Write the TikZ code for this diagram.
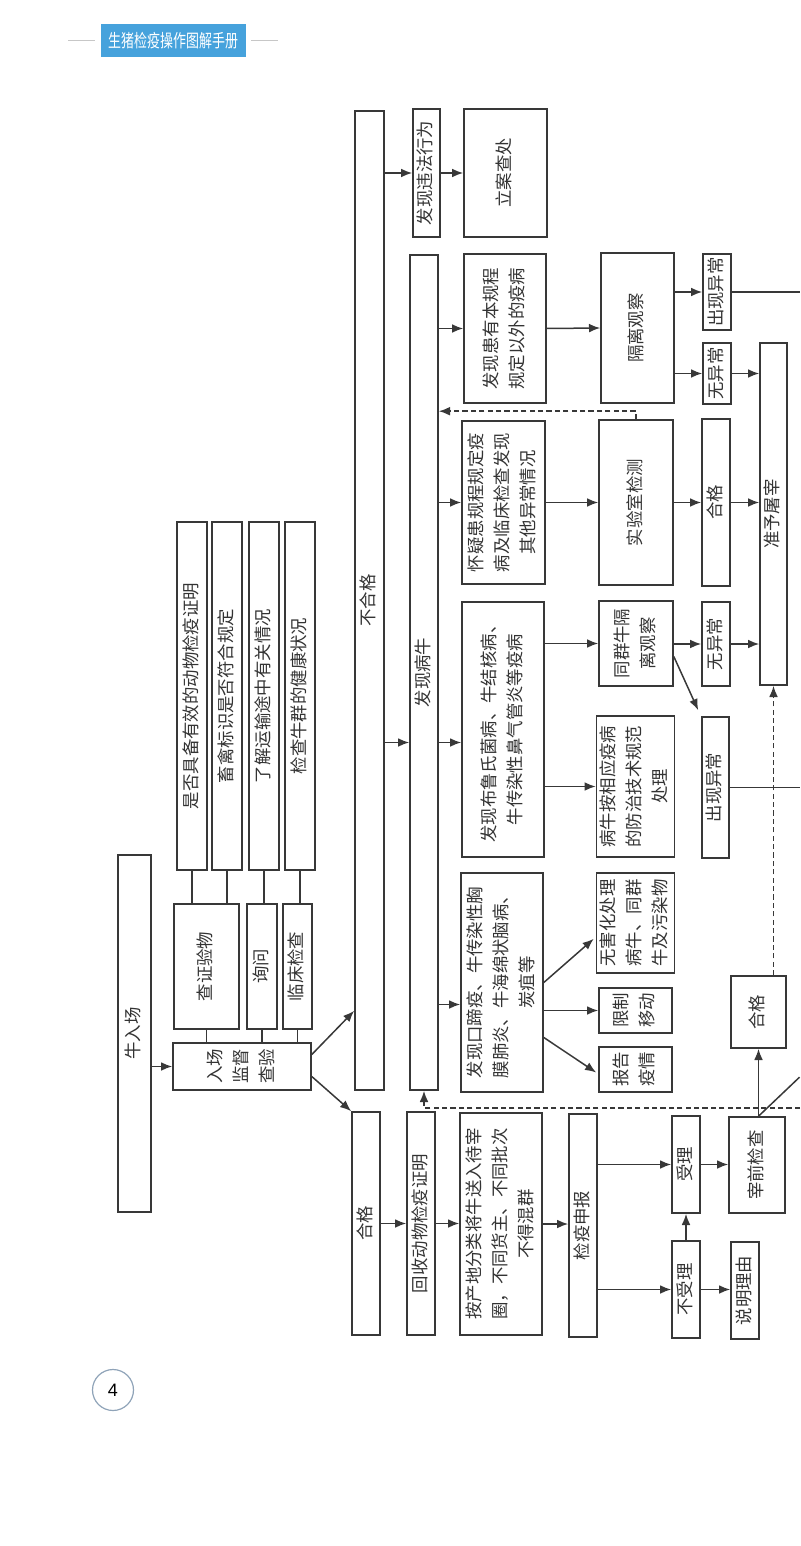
\documentclass[tikz,border=0pt]{standalone}
\usepackage{fontspec}
\setmainfont{Noto Sans CJK SC}
\newfontfamily\numfont{Liberation Sans}
\usepackage{graphicx}
\usepackage{xcolor}
\usetikzlibrary{calc, arrows.meta}
\definecolor{mblue}{HTML}{46A2DC}
\definecolor{mycirc}{HTML}{8FA3B8}
\colorlet{myline}{black!78}
\colorlet{mytext}{black!80}
\colorlet{myrule}{black!22}
\newcommand{\vt}[1]{\rotatebox{90}{\begin{tabular}{@{}c@{}}#1\end{tabular}}}
\tikzset{
  >=Latex,
  box/.style 2 args={draw=myline, line width=0.8pt, inner sep=0pt, text=mytext,
    minimum width=#1*0.5pt, minimum height=#2*0.5pt},
  connect/.style={line width=0.75pt, myline},
  connect arrow/.style={-{Latex[length=5.6pt,width=4.4pt]}, line width=0.75pt, myline},
  connect dash/.style={connect arrow, dash pattern=on 2.6pt off 1.6pt}
}

\begin{document}
\begin{tikzpicture}[x=0.5pt, y=-0.5pt, every node/.style={font=\fontsize{8.7}{13}\selectfont}]
  \useasboundingbox (0,0) rectangle (800,1546);
  \coordinate (edge) at (800,0);

  % Page header
  \node[fill=mblue, text=white, inner sep=0pt, minimum width=72.5pt, minimum height=16.5pt] (title) at (173.5,40.5)
    {\scalebox{0.72}[1]{\fontsize{9}{10}\selectfont 生猪检疫操作图解手册}};
  \draw[myrule, line width=0.8pt] ([xshift=-3pt]title.west) -- ++(-13.5pt,0);
  \draw[myrule, line width=0.8pt] ([xshift=2.5pt]title.east) -- ++(13.5pt,0);

  % Entry and inspection
  \node[box={33}{357}] (ruchang) at (134.5,1033.5) {\vt{牛入场}};
  \node[box={138}{47}] (jianyan) at (242,1066.5) {\vt{入场\\监督\\查验}};
  \node[box={65}{125}] (chazheng) at (206.5,966.5) {\vt{查证验物}};
  \node[box={30}{125}] (xunwen) at (262,966.5) {\vt{询问}};
  \node[box={29}{125}] (linchuang) at (297.5,966.5) {\vt{临床检查}};
  \node[box={30}{348}] (zhengming) at (192,696) {\vt{是否具备有效的动物检疫证明}};
  \node[box={30}{348}] (biaoshi) at (227,696) {\vt{畜禽标识是否符合规定}};
  \node[box={30}{348}] (yunshu) at (264,696) {\vt{了解运输途中有关情况}};
  \node[box={30}{348}] (jiankang) at (300,696) {\vt{检查牛群的健康状况}};

  % Result of inspection
  \node[box={29}{979}] (buhege) at (369.5,600.5) {\vt{不合格}};
  \node[box={28}{223}] (hege) at (366,1223.5) {\vt{合格}};

  % Not qualified
  \node[box={27}{128}] (weifa) at (426.5,173) {\vt{发现违法行为}};
  \node[box={83}{128}] (lian) at (505.5,173) {\vt{立案查处}};
  \node[box={28}{835}] (bingniu) at (424,672.5) {\vt{发现病牛}};

  \node[box={82}{149}] (yiwai) at (505,328.5) {\vt{发现患有本规程\\规定以外的疫病}};
  \node[box={73}{150}] (geli) at (637.5,328) {\vt{隔离观察}};
  \node[box={28}{76}] (yichang1) at (717,292) {\vt{出现异常}};
  \node[box={28}{61}] (wuyichang1) at (717,373.5) {\vt{无异常}};
  \node[box={27}{342}] (tuzai) at (773.5,514) {\vt{准予屠宰}};

  \node[box={83}{163}] (huaiyi) at (503.5,502.5) {\vt{怀疑患规程规定疫\\病及临床检查发现\\其他异常情况}};
  \node[box={74}{165}] (shiyan) at (636,502.5) {\vt{实验室检测}};
  \node[box={28}{167}] (hege2) at (716,502.5) {\vt{合格}};

  \node[box={82}{255}] (buru) at (503,729.5) {\vt{发现布鲁氏菌病、牛结核病、\\牛传染性鼻气管炎等疫病}};
  \node[box={74}{85}] (tongqun) at (636,643.5) {\vt{同群牛隔\\离观察}};
  \node[box={28}{84}] (wuyichang2) at (716,644) {\vt{无异常}};
  \node[box={27}{141}] (yichang2) at (715.5,787.5) {\vt{出现异常}};
  \node[box={73}{141}] (fangzhi) at (635.5,786.5) {\vt{病牛按相应疫病\\的防治技术规范\\处理}};

  \node[box={82}{219}] (kouti) at (502,982.5) {\vt{发现口蹄疫、牛传染性胸\\膜肺炎、牛海绵状脑病、\\炭疽等}};
  \node[box={73}{100}] (wuhai) at (635.5,923) {\vt{无害化处理\\病牛、同群\\牛及污染物}};
  \node[box={73}{45}] (xianzhi) at (635.5,1010.5) {\vt{限制\\移动}};
  \node[box={73}{45}] (baogao) at (635.5,1069.5) {\vt{报告\\疫情}};

  % Qualified
  \node[box={28}{223}] (huishou) at (421,1223.5) {\vt{回收动物检疫证明}};
  \node[box={82}{222}] (anchandi) at (501,1224) {\vt{按产地分类将牛送入待宰\\圈，不同货主、不同批次\\不得混群}};
  \node[box={28}{223}] (shenbao) at (583,1225.5) {\vt{检疫申报}};
  \node[box={28}{97}] (shouli) at (686,1164.5) {\vt{受理}};
  \node[box={28}{97}] (bushouli) at (686,1289.5) {\vt{不受理}};
  \node[box={28}{97}] (shuoming) at (745,1290.5) {\vt{说明理由}};
  \node[box={56}{96}] (zaiqian) at (757,1165) {\vt{宰前检查}};
  \node[box={55}{72}] (hege3) at (758.5,1012) {\vt{合格}};

  % Page number
  \node[circle, draw=mycirc, line width=0.6pt, minimum size=20.5pt, inner sep=0pt,
    font=\numfont\fontsize{9}{10}\selectfont] (pagenum) at (113,1390) {4};

  % Entry -> inspection
  \draw[connect arrow] (ruchang.east |- jianyan) -- (jianyan.west);
  \draw[connect] (jianyan.north -| chazheng) -- (chazheng.south);
  \draw[connect] (jianyan.north -| xunwen) -- (xunwen.south);
  \draw[connect] (jianyan.north -| linchuang) -- (linchuang.south);
  \draw[connect] (zhengming.south) -- (zhengming.south |- chazheng.north);
  \draw[connect] (biaoshi.south) -- (biaoshi.south |- chazheng.north);
  \draw[connect] (yunshu.south) -- (yunshu.south |- xunwen.north);
  \draw[connect] (jiankang.south) -- (jiankang.south |- linchuang.north);
  \draw[connect arrow] ($(jianyan.east)+(0,-12)$) -- ($(buhege.south west)+(0,-80)$);
  \draw[connect arrow] ($(jianyan.east)+(0,10)$) -- (hege.north west);

  % Not qualified -> sick cattle
  \coordinate (buruin) at ($(buru.west)+(0,13)$);
  \coordinate (koutiin) at ($(kouti.west)+(0,22)$);
  \draw[connect arrow] (buhege.east |- weifa) -- (weifa.west);
  \draw[connect arrow] (weifa.east) -- (lian.west);
  \draw[connect arrow] (buhege.east |- buruin) -- (bingniu.west |- buruin);
  \draw[connect arrow] (bingniu.east |- yiwai) -- (yiwai.west);
  \draw[connect arrow] (bingniu.east |- huaiyi) -- (huaiyi.west);
  \draw[connect arrow] (bingniu.east |- buruin) -- (buruin);
  \draw[connect arrow] (bingniu.east |- koutiin) -- (koutiin);

  \draw[connect arrow] (yiwai.east) -- (geli.west);
  \draw[connect arrow] (geli.east |- yichang1) -- (yichang1.west);
  \draw[connect arrow] (geli.east |- wuyichang1) -- (wuyichang1.west);
  \draw[connect arrow] (wuyichang1.east) -- (wuyichang1.east -| tuzai.west);
  \draw[connect] (yichang1.east) -- (yichang1.east -| edge);

  \draw[connect arrow] (huaiyi.east) -- (shiyan.west);
  \draw[connect arrow] (shiyan.east) -- (hege2.west);
  \draw[connect arrow] (hege2.east) -- (hege2.east -| tuzai.west);
  \draw[connect dash] (shiyan.north) |- ($(bingniu.east |- shiyan.north)+(0,-8)$);

  \draw[connect arrow] (buru.east |- tongqun) -- (tongqun.west);
  \draw[connect arrow] (buru.east |- fangzhi) -- (fangzhi.west);
  \draw[connect arrow] (tongqun.east |- wuyichang2) -- (wuyichang2.west);
  \draw[connect arrow] (wuyichang2.east) -- (wuyichang2.east -| tuzai.west);
  \draw[connect arrow] ($(tongqun.east)+(0,13)$) -- ($(yichang2.north west)+(-3,-6)$);
  \draw[connect] (yichang2.east) -- (yichang2.east -| edge);

  \draw[connect arrow] (kouti.east) -- ($(wuhai.south west)+(-2,-35)$);
  \draw[connect arrow] (kouti.east |- xianzhi) -- (xianzhi.west);
  \draw[connect arrow] ($(kouti.east)+(0,55)$) -- ($(baogao.west)+(-2,3)$);

  % Qualified -> slaughter
  \draw[connect arrow] (hege.east |- huishou) -- (huishou.west);
  \draw[connect arrow] (huishou.east) -- (huishou.east -| anchandi.west);
  \draw[connect arrow] (anchandi.east) -- (anchandi.east -| shenbao.west);
  \draw[connect arrow] (shenbao.east |- shouli) -- (shouli.west);
  \draw[connect arrow] (shenbao.east |- bushouli) -- (bushouli.west);
  \draw[connect arrow] (bushouli.north) -- (shouli.south);
  \draw[connect arrow] (bushouli.east) -- (bushouli.east -| shuoming.west);
  \draw[connect arrow] (shouli.east) -- (shouli.east -| zaiqian.west);
  \draw[connect arrow] (zaiqian.north -| hege3) -- (hege3.south);
  \draw[connect] (zaiqian.north -| hege3) -- ++(41,-39);
  \draw[connect dash] (tuzai.south |- hege3.north) -- (tuzai.south);

  % Dashed return line
  \coordinate (dashrow) at ($(bingniu.south)+(0,17)$);
  \draw[connect dash] (dashrow -| edge) -- (dashrow) -- (bingniu.south);

\end{tikzpicture}
\end{document}
